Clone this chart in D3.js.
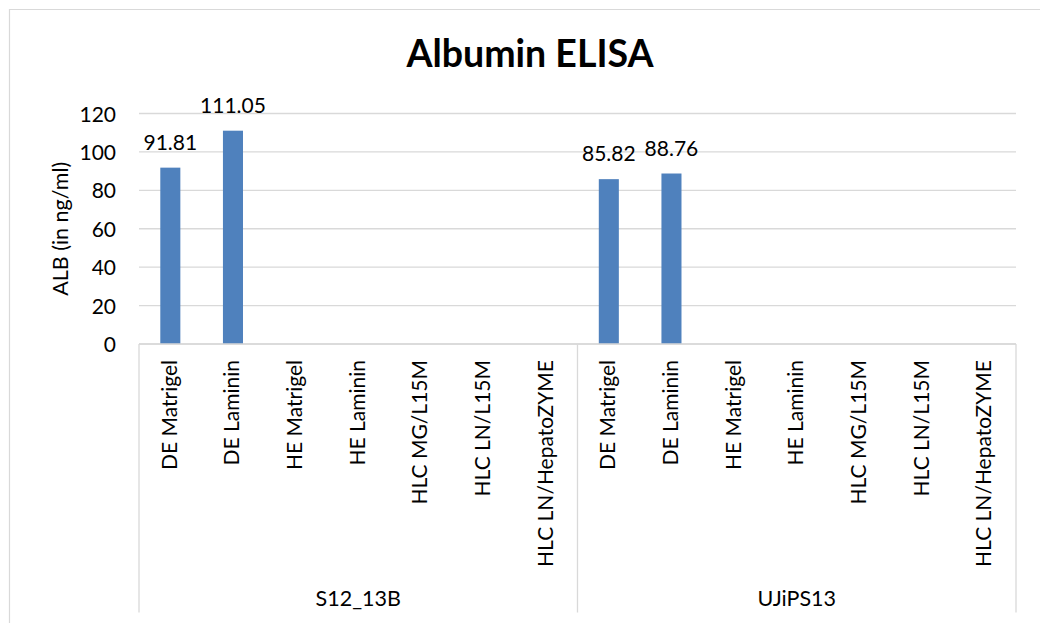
<!DOCTYPE html>
<html>
<head>
<meta charset="utf-8">
<script src="https://cdn.jsdelivr.net/npm/d3@7"></script>
<style>
  html, body { margin: 0; padding: 0; background: #fff; }
  svg { display: block; font-family: Lato, "Noto Sans", sans-serif; }
</style>
</head>
<body>
<svg id="chart" width="1040" height="623"></svg>
<script>
// Albumin ELISA results, grouped by cell line
const groups = ["S12_13B", "UJiPS13"];
const conditions = ["DE Matrigel", "DE Laminin", "HE Matrigel", "HE Laminin",
                    "HLC MG/L15M", "HLC LN/L15M", "HLC LN/HepatoZYME"];
// ALB concentration (ng/ml); null = no measurement shown
const valuesS12 = [91.81, 111.05, null, null, null, null, null];
const valuesUJiPS13 = [85.82, 88.76, null, null, null, null, null];
const yTicks = [0, 20, 40, 60, 80, 100, 120];

const rows = [];
groups.forEach((g, gi) => {
  const vals = gi === 0 ? valuesS12 : valuesUJiPS13;
  conditions.forEach((c, ci) => rows.push({ key: g + "|" + c, group: g, cond: c, value: vals[ci] }));
});

const svg = d3.select("#chart");
const W = 1040, H = 623;
const plotLeft = 139, plotRight = 1016, plotTop = 113.5, plotBottom = 344, axisBottom = 612.5;

// chart frame
svg.append("path")
  .attr("d", `M9.5,${H + 2} V9.5 H${W + 2}`)
  .attr("fill", "none").attr("stroke", "#d9d9d9").attr("stroke-width", 1.2);

const x = d3.scaleBand().domain(rows.map(d => d.key)).range([plotLeft, plotRight])
  .paddingInner(0.68).paddingOuter(0.34);
const y = d3.scaleLinear().domain([0, 120]).range([plotBottom, plotTop]);

// gridlines
svg.append("g").selectAll("line").data(yTicks).join("line")
  .attr("x1", plotLeft).attr("x2", plotRight)
  .attr("y1", d => y(d)).attr("y2", d => y(d))
  .attr("stroke", "#d9d9d9").attr("stroke-width", 1.3);

// y axis labels
const yAxis = d3.axisLeft(y).tickValues(yTicks).tickSize(0).tickPadding(0);
const yg = svg.append("g").attr("transform", `translate(116,0)`).call(yAxis);
yg.select(".domain").remove();
yg.selectAll("text").attr("font-size", 21).attr("fill", "#000")
  .attr("font-family", "Lato, sans-serif").attr("dy", "0.36em");

// y axis title
svg.append("text")
  .attr("transform", `translate(68,${(plotTop + plotBottom) / 2}) rotate(-90)`)
  .attr("text-anchor", "middle").attr("font-size", 21.5).attr("fill", "#000")
  .text("ALB (in ng/ml)");

// title
svg.append("text").attr("x", 530).attr("y", 67).attr("text-anchor", "middle")
  .attr("font-size", 37.5).attr("font-weight", "bold").attr("fill", "#000")
  .text("Albumin ELISA");

// bars
const barRows = rows.filter(d => d.value != null);
svg.append("g").selectAll("rect").data(barRows).join("rect")
  .attr("x", d => x(d.key)).attr("width", x.bandwidth())
  .attr("y", d => y(d.value)).attr("height", d => y(0) - y(d.value))
  .attr("fill", "#4f81bd");

// value labels
svg.append("g").selectAll("text").data(barRows).join("text")
  .attr("x", d => x(d.key) + x.bandwidth() / 2)
  .attr("y", d => y(d.value) - 18)
  .attr("text-anchor", "middle").attr("font-size", 21).attr("fill", "#000")
  .text(d => d.value.toFixed(2));

// category axis: baseline and group separators
svg.append("line").attr("x1", plotLeft).attr("x2", plotRight).attr("y1", plotBottom).attr("y2", plotBottom)
  .attr("stroke", "#d9d9d9").attr("stroke-width", 1.3);
const mid = plotLeft + (plotRight - plotLeft) / 2;
svg.append("g").selectAll("line").data([plotLeft, mid, plotRight]).join("line")
  .attr("x1", d => d).attr("x2", d => d).attr("y1", plotBottom).attr("y2", axisBottom)
  .attr("stroke", "#d9d9d9").attr("stroke-width", 1.3);

// condition labels (rotated)
svg.append("g").selectAll("text").data(rows).join("text")
  .attr("transform", d => `translate(${x(d.key) + x.bandwidth() / 2 + 6.5},360) rotate(-90)`)
  .attr("text-anchor", "end").attr("font-size", 21).attr("fill", "#000")
  .text(d => d.cond);

// group labels
svg.append("g").selectAll("text").data(groups).join("text")
  .attr("x", (d, i) => plotLeft + (plotRight - plotLeft) / 4 * (2 * i + 1))
  .attr("y", 606).attr("text-anchor", "middle").attr("font-size", 21.5).attr("fill", "#000")
  .text(d => d);
</script>
</body>
</html>
